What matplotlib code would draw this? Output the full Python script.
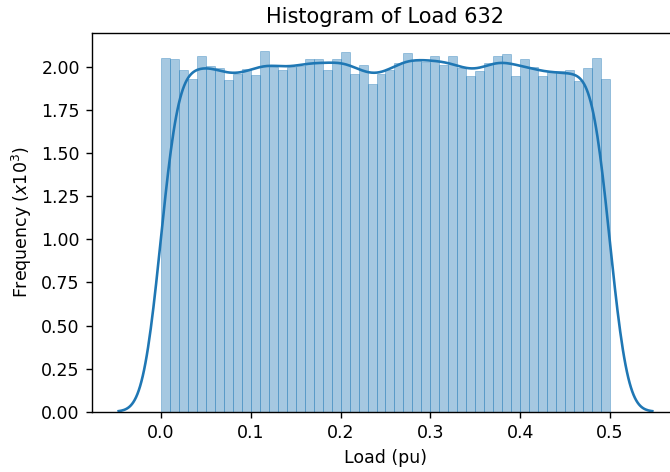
import numpy as np
import matplotlib
matplotlib.use("Agg")
import matplotlib.pyplot as plt
import seaborn as sns

# histogram of load 632, 50 bins of 0.01 pu, density (shown as x10^3)
bin_edges = np.linspace(0.0, 0.5, 51)
heights = [2.052, 2.045, 1.981, 1.929, 2.062, 2.006, 1.992, 1.923, 1.958, 1.987,
           1.952, 2.091, 2.000, 1.983, 2.002, 2.004, 2.045, 2.045, 1.983, 2.045,
           2.087, 1.958, 2.010, 1.900, 1.960, 1.985, 2.025, 2.079, 2.042, 2.027,
           2.062, 2.010, 2.062, 1.992, 1.946, 1.975, 2.021, 2.062, 2.074, 1.946,
           2.045, 1.998, 1.948, 1.975, 1.975, 1.981, 1.919, 1.992, 2.050, 1.929]
centers = (bin_edges[:-1] + bin_edges[1:]) / 2

dpi = 125
fig = plt.figure(figsize=(670 / dpi, 472 / dpi), dpi=dpi)
ax = fig.add_axes([0.1373, 0.1278, 1.0134 - 0.1373, 0.9294 - 0.1278])

ax.bar(bin_edges[:-1], heights, width=np.diff(bin_edges), align='edge',
       color='C0', alpha=0.4, edgecolor='C0', linewidth=0.5)

sns.kdeplot(x=centers, weights=heights, bw_adjust=0.245, cut=3.2,
            gridsize=400, color='C0', lw=1.5, ax=ax)

ax.set_title('Histogram of Load 632', fontsize=12)
ax.set_xlabel('Load (pu)')
ax.set_ylabel(r'Frequency ($x10^3$)')
ax.set_yticks(np.arange(0, 2.01, 0.25))
ax.set_xticks(np.arange(0, 0.51, 0.1))

fig.savefig('out.png', dpi=dpi)
